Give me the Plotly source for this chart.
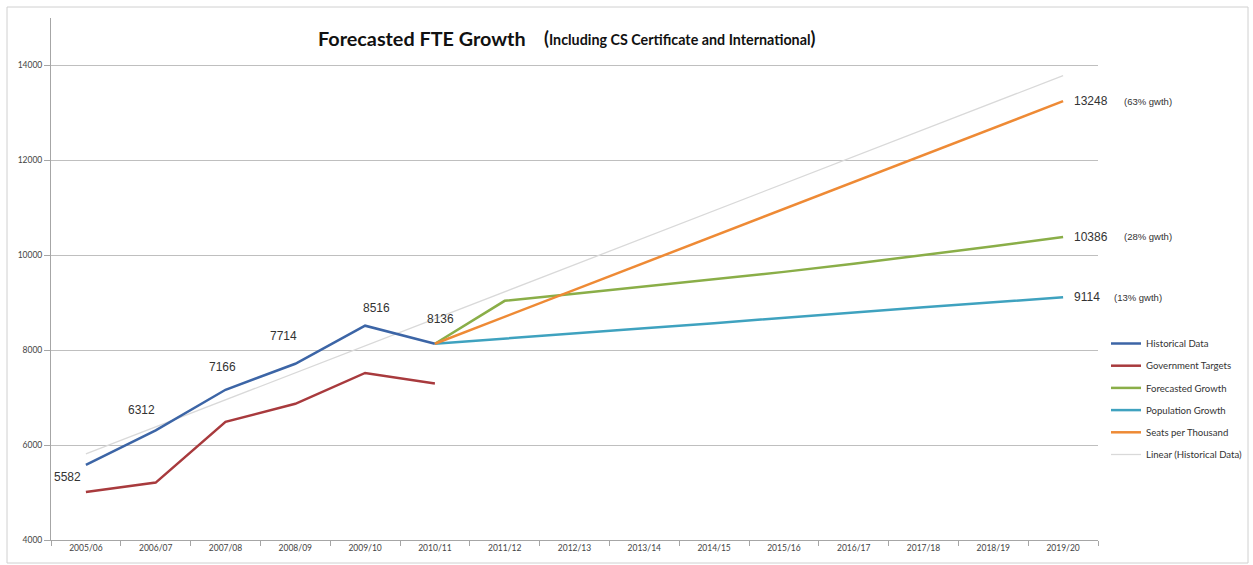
import plotly.graph_objects as go

years = ["2005/06", "2006/07", "2007/08", "2008/09", "2009/10", "2010/11", "2011/12",
         "2012/13", "2013/14", "2014/15", "2015/16", "2016/17", "2017/18", "2018/19", "2019/20"]

hist_years = years[:6]
historical = [5582, 6312, 7166, 7714, 8516, 8136]
gov_targets = [5010, 5210, 6490, 6870, 7520, 7300]

fc_years = years[5:]
forecasted = [8136, 9040, 9190, 9340, 9495, 9650, 9820, 10000, 10190, 10386]
population = [8136, 8240, 8350, 8460, 8570, 8685, 8800, 8905, 9010, 9114]
seats = [8136, 8704, 9272, 9840, 10408, 10976, 11544, 12112, 12680, 13248]

trend_years = [years[0], years[-1]]
trend = [5814, 13786]

y_ticks = [4000, 6000, 8000, 10000, 12000, 14000]

end_labels = [("13248", "(63% gwth)", 13248), ("10386", "(28% gwth)", 10386), ("9114", "(13% gwth)", 9114)]

C_HIST = "#3C65A6"
C_GOV = "#A83A3D"
C_FC = "#8AAE48"
C_POP = "#3FA2BF"
C_SEAT = "#EE8A35"
C_TREND = "#D9D9D9"

fig = go.Figure()
common = dict(mode="lines", line_shape="linear")
fig.add_trace(go.Scatter(x=trend_years, y=trend, name="Linear (Historical Data)",
                         line=dict(color=C_TREND, width=1.3), legendgroup="f", legendrank=6, **common))
fig.add_trace(go.Scatter(x=hist_years, y=historical, name="Historical Data",
                         line=dict(color=C_HIST, width=2.5), legendgroup="a", legendrank=1, **common))
fig.add_trace(go.Scatter(x=hist_years, y=gov_targets, name="Government Targets",
                         line=dict(color=C_GOV, width=2.5), legendgroup="b", legendrank=2, **common))
fig.add_trace(go.Scatter(x=fc_years, y=forecasted, name="Forecasted Growth",
                         line=dict(color=C_FC, width=2.5), legendgroup="c", legendrank=3, **common))
fig.add_trace(go.Scatter(x=fc_years, y=population, name="Population Growth",
                         line=dict(color=C_POP, width=2.5), legendgroup="d", legendrank=4, **common))
fig.add_trace(go.Scatter(x=fc_years, y=seats, name="Seats per Thousand",
                         line=dict(color=C_SEAT, width=2.5), legendgroup="e", legendrank=5, **common))

annotations = []
shifts = [(-18, -12), (-14, 20), (-3, 23), (-12, 28), (11, 18), (6, 25)]
for yr, v, (dx, dy) in zip(hist_years, historical, shifts):
    annotations.append(dict(x=yr, y=v, text=str(v), showarrow=False, xshift=dx, yshift=dy,
                            font=dict(family="Liberation Sans", size=12, color="#333333")))
for num, g, v in end_labels:
    annotations.append(dict(x=years[-1], y=v, text=num, showarrow=False, xanchor="left", xshift=9,
                            font=dict(family="Liberation Sans", size=12, color="#333333")))
    annotations.append(dict(x=years[-1], y=v, text=g, showarrow=False, xanchor="left",
                            xshift=59 if num != "9114" else 49,
                            font=dict(family="Liberation Sans", size=9.5, color="#333333")))

annotations.append(dict(xref="paper", yref="paper", x=(316 - 51) / 1047, y=(540 - 38) / 522,
                        xanchor="left", yanchor="middle", showarrow=False,
                        text="<b>Forecasted FTE Growth</b>",
                        font=dict(family="Lato", size=19.8, color="#111111")))
annotations.append(dict(xref="paper", yref="paper", x=(542 - 51) / 1047, y=(540 - 38) / 522,
                        xanchor="left", yanchor="middle", showarrow=False,
                        text="<b><span style='font-size:18px'>(</span>Including CS Certificate and International<span style='font-size:18px'>)</span></b>",
                        font=dict(family="Lato", size=14.3, color="#111111")))

fig.update_layout(
    width=1253, height=565,
    margin=dict(l=51, r=155, t=18, b=25, autoexpand=False),
    paper_bgcolor="white", plot_bgcolor="white",
    showlegend=True,
    legend=dict(x=(1106 - 51) / 1047, xanchor="left", y=(540 - 329) / 522, yanchor="top",
                tracegroupgap=3.2, font=dict(family="Lato", size=9.6, color="#333333"),
                bgcolor="rgba(0,0,0,0)", itemwidth=30),
    annotations=annotations,
    shapes=[dict(type="rect", xref="paper", yref="paper",
                 x0=(7 - 51) / 1047, x1=(1248 - 51) / 1047,
                 y0=(540 - 563) / 522, y1=(540 - 7) / 522,
                 line=dict(color="#D0D0D0", width=1), fillcolor="rgba(0,0,0,0)", layer="below")],
    xaxis=dict(type="category", categoryorder="array", categoryarray=years,
               range=[-0.5, len(years) - 0.5], showgrid=False,
               showline=True, linecolor="#A6A6A6", linewidth=1,
               ticks="outside", tickson="boundaries", ticklen=5, tickcolor="#A6A6A6",
               tickfont=dict(family="Lato", size=8.5, color="#444444")),
    yaxis=dict(range=[4000, 15000], tickvals=y_ticks, ticktext=[str(t) for t in y_ticks],
               showgrid=True, gridcolor="#BFBFBF", gridwidth=1.3,
               showline=True, linecolor="#A6A6A6", linewidth=1,
               ticks="outside", ticklen=6, tickcolor="#A6A6A6", zeroline=False,
               tickfont=dict(family="Lato", size=8.5, color="#444444")),
    hovermode=False,
)

fig.write_html("out.html")
